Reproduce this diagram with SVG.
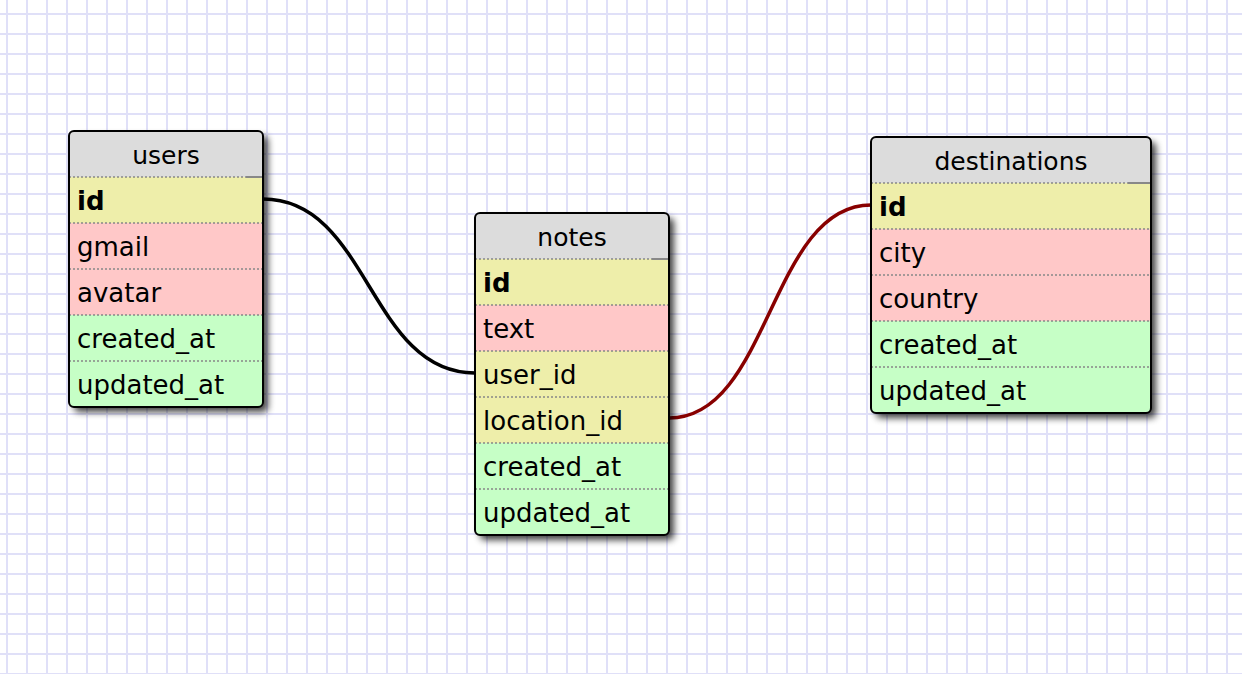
<svg xmlns="http://www.w3.org/2000/svg" width="1242" height="674" viewBox="0 0 1242 674">
<style>
.hdr{fill:#dcdcdc}
.pk{fill:#eeeeaa}
.ct{fill:#ffc8c8}
.ts{fill:#c6ffc6}
.sep{stroke:#888888;stroke-width:1.5;stroke-dasharray:2 2;fill:none}
.sepsolid{stroke:#888888;stroke-width:2;fill:none}
.border{fill:none;stroke:#000;stroke-width:2}
.shadow{fill:#000;filter:url(#sh)}
.title{font-family:"DejaVu Sans","Liberation Sans",sans-serif;font-size:25px;fill:#000;text-anchor:middle}
.f{font-family:"DejaVu Sans","Liberation Sans",sans-serif;font-size:26px;fill:#000}
.b{font-weight:bold}
.conn{fill:none;stroke-width:3.5}
</style>
<defs>
<pattern id="grid" patternUnits="userSpaceOnUse" x="6" y="13" width="20" height="20">
<rect x="0" y="0" width="2" height="20" fill="#e0e0f8"/>
<rect x="0" y="0" width="20" height="2" fill="#e0e0f8"/>
</pattern>
<filter id="sh" x="-20%" y="-20%" width="140%" height="140%">
<feGaussianBlur stdDeviation="3.5"/>
<feComponentTransfer><feFuncA type="linear" slope="0.75"/></feComponentTransfer>
</filter>
<clipPath id="cu"><rect x="69" y="131" width="194" height="276" rx="5"/></clipPath>
<clipPath id="cn"><rect x="475" y="213" width="194" height="322" rx="5"/></clipPath>
<clipPath id="cd"><rect x="871" y="137" width="280" height="276" rx="5"/></clipPath>
</defs>
<rect width="1242" height="674" fill="#ffffff"/>
<rect width="1242" height="674" fill="url(#grid)"/>

<g id="connectors">
<path class="conn" stroke="#000000" d="M263,199 C369,199 369,373 475,373"/>
<path class="conn" stroke="#880000" d="M669,418 C770,418 770,205 871,205"/>
</g>

<g id="users">
<rect class="shadow" x="74" y="136" width="194" height="276" rx="5"/>
<g clip-path="url(#cu)">
<rect class="hdr" x="69" y="131" width="194" height="46"/>
<rect class="pk" x="69" y="177" width="194" height="46"/>
<rect class="ct" x="69" y="223" width="194" height="46"/>
<rect class="ct" x="69" y="269" width="194" height="46"/>
<rect class="ts" x="69" y="315" width="194" height="46"/>
<rect class="ts" x="69" y="361" width="194" height="46"/>
</g>
<path class="sep" d="M69,177 H246 M69,223 H263 M69,269 H263 M69,315 H263 M69,361 H263"/>
<path class="sepsolid" d="M246,177 H263"/>
<rect class="border" x="69" y="131" width="194" height="276" rx="5"/>
<text class="title" x="166" y="164">users</text>
<text class="f b" x="77" y="210">id</text>
<text class="f" x="77" y="256">gmail</text>
<text class="f" x="77" y="302">avatar</text>
<text class="f" x="77" y="348">created_at</text>
<text class="f" x="77" y="394">updated_at</text>
</g>

<g id="notes">
<rect class="shadow" x="480" y="218" width="194" height="322" rx="5"/>
<g clip-path="url(#cn)">
<rect class="hdr" x="475" y="213" width="194" height="46"/>
<rect class="pk" x="475" y="259" width="194" height="46"/>
<rect class="ct" x="475" y="305" width="194" height="46"/>
<rect class="pk" x="475" y="351" width="194" height="46"/>
<rect class="pk" x="475" y="397" width="194" height="46"/>
<rect class="ts" x="475" y="443" width="194" height="46"/>
<rect class="ts" x="475" y="489" width="194" height="46"/>
</g>
<path class="sep" d="M475,259 H652 M475,305 H669 M475,351 H669 M475,397 H669 M475,443 H669 M475,489 H669"/>
<path class="sepsolid" d="M652,259 H669"/>
<rect class="border" x="475" y="213" width="194" height="322" rx="5"/>
<text class="title" x="572" y="246">notes</text>
<text class="f b" x="483" y="292">id</text>
<text class="f" x="483" y="338">text</text>
<text class="f" x="483" y="384">user_id</text>
<text class="f" x="483" y="430">location_id</text>
<text class="f" x="483" y="476">created_at</text>
<text class="f" x="483" y="522">updated_at</text>
</g>

<g id="destinations">
<rect class="shadow" x="876" y="142" width="280" height="276" rx="5"/>
<g clip-path="url(#cd)">
<rect class="hdr" x="871" y="137" width="280" height="46"/>
<rect class="pk" x="871" y="183" width="280" height="46"/>
<rect class="ct" x="871" y="229" width="280" height="46"/>
<rect class="ct" x="871" y="275" width="280" height="46"/>
<rect class="ts" x="871" y="321" width="280" height="46"/>
<rect class="ts" x="871" y="367" width="280" height="46"/>
</g>
<path class="sep" d="M871,183 H1128 M871,229 H1151 M871,275 H1151 M871,321 H1151 M871,367 H1151"/>
<path class="sepsolid" d="M1128,183 H1151"/>
<rect class="border" x="871" y="137" width="280" height="276" rx="5"/>
<text class="title" x="1011" y="170">destinations</text>
<text class="f b" x="879" y="216">id</text>
<text class="f" x="879" y="262">city</text>
<text class="f" x="879" y="308">country</text>
<text class="f" x="879" y="354">created_at</text>
<text class="f" x="879" y="400">updated_at</text>
</g>
</svg>
